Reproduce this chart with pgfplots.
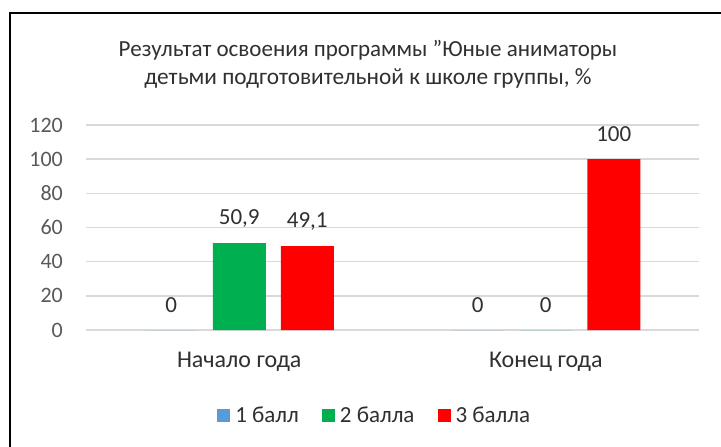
\documentclass[border=0pt]{standalone}
\usepackage{pgfplots}
\pgfplotsset{compat=1.18}
\usepackage{fontspec}
\setmainfont{Carlito}[Ligatures=ResetAll]
\definecolor{c1}{HTML}{5B9BD5}
\definecolor{c2}{HTML}{00B050}
\definecolor{c3}{HTML}{FF0000}
\definecolor{gridc}{HTML}{D9D9D9}
\definecolor{tickc}{HTML}{595959}
\definecolor{txt}{HTML}{303030}
\newcommand{\fs}[1]{\fontsize{#1}{#1}\selectfont}
\begin{document}
\begin{tikzpicture}
\useasboundingbox (0pt,0pt) rectangle (721pt,-447pt);
\fill[white] (0pt,0pt) rectangle (721pt,-447pt);
\draw[line width=2.5pt,black] (10pt,-450pt) -- (10pt,-13pt) -- (725pt,-13pt);
\node[text=txt,font=\fs{23pt}] at (368pt,-50pt) {Результат освоения программы \symbol{34}Юные аниматоры};
\node[text=txt,font=\fs{23.3pt}] at (368pt,-78pt) {детьми подготовительной к школе группы, \%};
\begin{axis}[
  at={(86pt,-330pt)}, anchor=south west,
  scale only axis, width=613pt, height=205pt,
  ymin=0, ymax=120, ytick={0,20,...,120},
  xmin=-0.5, xmax=1.5, xtick={0,1},
  xticklabels={Начало года, Конец года},
  ybar=15pt, bar width=53pt,
  axis line style={draw=none},
  major tick length=0pt,
  ymajorgrids, grid style={gridc, line width=1.5pt},
  /pgf/number format/assume math mode=true,
  /pgf/number format/use comma,
  yticklabel style={font=\fs{22pt}, text=tickc, anchor=east, inner sep=0pt, xshift=-23pt},
  xticklabel style={font=\fs{24pt}, text=txt, anchor=center, inner sep=0pt, yshift=-32pt},
  nodes near coords,
  nodes near coords style={font=\fs{23pt}, text=txt, anchor=center, inner sep=0pt, yshift=25pt},
  legend style={at={(0.471,-0.415)}, anchor=center, draw=none, fill=none,
    legend columns=-1, font=\fs{23pt}, text=txt,
    /tikz/every odd column/.append style={column sep=3pt},
    /tikz/every even column/.append style={column sep=21pt}},
  legend image code/.code={\fill[#1] (0pt,-7pt) rectangle (13pt,6pt);},
]
\addplot[fill=c1, draw=none] coordinates {(0,0) (1,0)};
\addplot[fill=c2, draw=none] coordinates {(0,50.9) (1,0)};
\addplot[fill=c3, draw=none] coordinates {(0,49.1) (1,100)};
\legend{1 балл, 2 балла, 3 балла}
\end{axis}
\end{tikzpicture}
\end{document}
